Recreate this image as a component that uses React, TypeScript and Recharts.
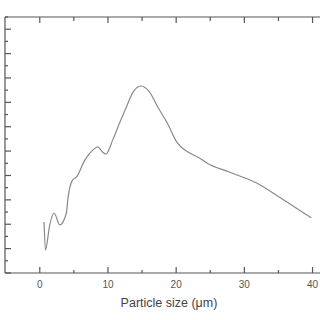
import React from 'react'
import { Line, LineChart, XAxis, YAxis } from 'recharts'

// particle size (um) vs. relative volume
const sizes = [
  0.63, 0.83, 1.46, 2.1, 2.93, 3.9, 4.1, 4.8, 5.4, 6.6, 7.8, 8.5, 9.2, 9.7, 10.7, 11.7, 12.7, 13.6,
  14.8, 16.1, 17.3, 18.7, 20.1, 22.0, 23.4, 24.5, 27.8, 31.8, 35.1, 39.8,
]
const volumes = [
  2.09, 0.94, 1.97, 2.46, 1.97, 2.46, 2.99, 3.81, 3.94, 4.63, 5.05, 5.17, 4.96, 4.88, 5.46, 6.15,
  6.81, 7.38, 7.67, 7.42, 6.81, 6.15, 5.37, 4.92, 4.72, 4.51, 4.14, 3.69, 3.12, 2.26,
]
const xTicks = [0, 5, 10, 15, 20, 25, 30, 35, 40]
const yTicks = [
  0, 0.5, 1, 1.5, 2, 2.5, 3, 3.5, 4, 4.5, 5, 5.5, 6, 6.5, 7, 7.5, 8, 8.5, 9, 9.5, 10, 10.5,
]

const data = sizes.map((s, i) => ({ size: s, volume: volumes[i] }))

const AXIS = '#555'

const BottomTick = (props: any) => {
  const { x, y, payload } = props
  const major = payload.value % 10 === 0
  return (
    <g>
      <line x1={x} y1={y} x2={x} y2={y - (major ? 6 : 3)} stroke={AXIS} strokeWidth={1.2} />
      {major && (
        <text x={x} y={y + 15} textAnchor="middle" fontSize={10} fill="#555" fontFamily="Liberation Sans, Arial, sans-serif">
          {payload.value}
        </text>
      )}
    </g>
  )
}

const TopTick = (props: any) => {
  const { x, y, payload } = props
  const major = payload.value % 10 === 0
  return <line x1={x} y1={y} x2={x} y2={y + (major ? 6 : 4)} stroke={AXIS} strokeWidth={1.2} />
}

const LeftTick = (props: any) => {
  const { x, y, payload } = props
  const major = Number.isInteger(payload.value)
  return <line x1={x} y1={y} x2={x + (major ? 6 : 3)} y2={y} stroke={AXIS} strokeWidth={1.2} />
}

export default function App() {
  return (
    <div style={{ position: 'absolute', left: 0, top: 0, width: 320, height: 320, overflow: 'hidden', background: '#fff' }}>
      <LineChart width={345} height={320} data={data} margin={{ top: 16, right: 12, left: 4, bottom: 0 }}>
        <XAxis
          xAxisId="bottom"
          dataKey="size"
          type="number"
          domain={[-5.1, 43]}
          ticks={xTicks}
          interval={0}
          tickSize={0}
          tickMargin={0}
          tickLine={false}
          tick={<BottomTick />}
          axisLine={{ stroke: AXIS, strokeWidth: 1.2 }}
          height={47}
          label={{
            value: 'Particle size (\u03bcm)',
            position: 'insideBottom',
            offset: 13,
            fontSize: 12.5,
            fill: '#444',
            fontFamily: 'Liberation Sans, Arial, sans-serif',
          }}
        />
        <XAxis
          xAxisId="top"
          orientation="top"
          dataKey="size"
          type="number"
          domain={[-5.1, 43]}
          ticks={xTicks}
          interval={0}
          tickSize={0}
          tickMargin={0}
          tickLine={false}
          tick={<TopTick />}
          axisLine={{ stroke: AXIS, strokeWidth: 1.2 }}
          height={1}
        />
        <YAxis
          type="number"
          domain={[0, 10.5]}
          ticks={yTicks}
          interval={0}
          width={1}
          tickSize={0}
          tickMargin={0}
          tickLine={false}
          tick={<LeftTick />}
          axisLine={{ stroke: AXIS, strokeWidth: 1.2 }}
        />
        <Line
          xAxisId="bottom"
          type="monotone"
          dataKey="volume"
          stroke="#8a8a8a"
          strokeWidth={1.2}
          dot={false}
          isAnimationActive={false}
        />
      </LineChart>
    </div>
  )
}
